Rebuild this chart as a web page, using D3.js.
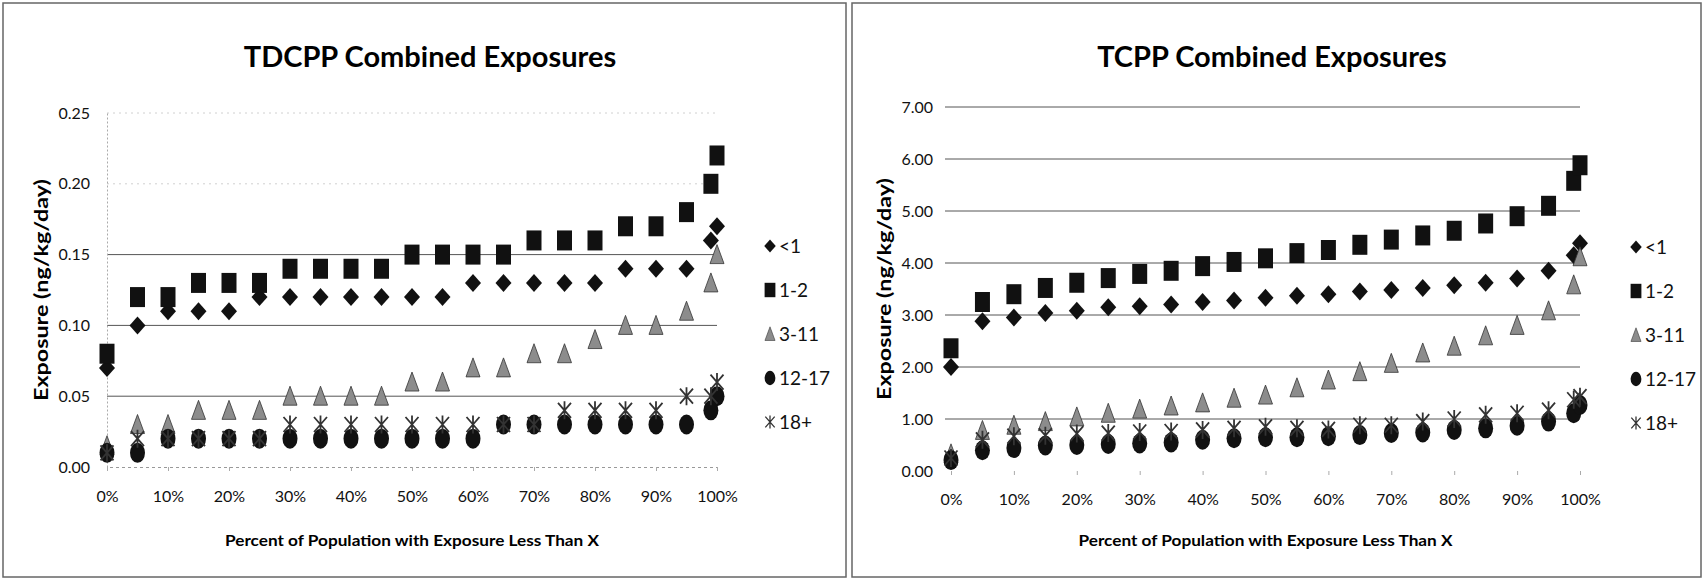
<!DOCTYPE html>
<html lang="en">
<head>
  <meta charset="UTF-8">
  <title>TDCPP / TCPP Combined Exposures</title>
  <script src="https://d3js.org/d3.v7.min.js"></script>
  <style>
    body { margin: 0; background: #fff; font-family: Lato, "Open Sans", sans-serif; }
    svg { display: block; }
  </style>
</head>
<body>
<svg id="chart" width="1704" height="580"></svg>
<script>
// percentiles shared by both charts
const pct = [0, .05, .10, .15, .20, .25, .30, .35, .40, .45, .50, .55, .60, .65, .70, .75, .80, .85, .90, .95, .99, 1.00];
const groups = ["<1", "1-2", "3-11", "12-17", "18+"];

// TDCPP (ng/kg/day)
const tdcppLt1   = [0.07, 0.10, 0.11, 0.11, 0.11, 0.12, 0.12, 0.12, 0.12, 0.12, 0.12, 0.12, 0.13, 0.13, 0.13, 0.13, 0.13, 0.14, 0.14, 0.14, 0.16, 0.17];
const tdcpp1to2  = [0.08, 0.12, 0.12, 0.13, 0.13, 0.13, 0.14, 0.14, 0.14, 0.14, 0.15, 0.15, 0.15, 0.15, 0.16, 0.16, 0.16, 0.17, 0.17, 0.18, 0.20, 0.22];
const tdcpp3to11 = [0.015, 0.03, 0.03, 0.04, 0.04, 0.04, 0.05, 0.05, 0.05, 0.05, 0.06, 0.06, 0.07, 0.07, 0.08, 0.08, 0.09, 0.10, 0.10, 0.11, 0.13, 0.15];
const tdcpp12to17= [0.01, 0.01, 0.02, 0.02, 0.02, 0.02, 0.02, 0.02, 0.02, 0.02, 0.02, 0.02, 0.02, 0.03, 0.03, 0.03, 0.03, 0.03, 0.03, 0.03, 0.04, 0.05];
const tdcpp18up  = [0.01, 0.02, 0.02, 0.02, 0.02, 0.02, 0.03, 0.03, 0.03, 0.03, 0.03, 0.03, 0.03, 0.03, 0.03, 0.04, 0.04, 0.04, 0.04, 0.05, 0.05, 0.06];
const tdcppTicks = [0, 0.05, 0.10, 0.15, 0.20, 0.25];

// TCPP (ng/kg/day)
const tcppLt1   = [2.00, 2.88, 2.95, 3.04, 3.08, 3.15, 3.17, 3.20, 3.25, 3.28, 3.33, 3.37, 3.40, 3.45, 3.48, 3.52, 3.57, 3.62, 3.70, 3.85, 4.15, 4.38];
const tcpp1to2  = [2.36, 3.25, 3.40, 3.52, 3.62, 3.71, 3.79, 3.85, 3.94, 4.02, 4.09, 4.19, 4.25, 4.35, 4.45, 4.53, 4.62, 4.76, 4.90, 5.10, 5.58, 5.88];
const tcpp3to11 = [0.33, 0.78, 0.88, 0.95, 1.04, 1.11, 1.19, 1.25, 1.31, 1.40, 1.46, 1.60, 1.75, 1.91, 2.07, 2.27, 2.40, 2.60, 2.80, 3.08, 3.58, 4.12];
const tcpp12to17= [0.21, 0.40, 0.44, 0.49, 0.50, 0.52, 0.53, 0.55, 0.60, 0.63, 0.65, 0.65, 0.67, 0.69, 0.73, 0.74, 0.79, 0.82, 0.87, 0.95, 1.11, 1.27];
const tcpp18up  = [0.25, 0.60, 0.67, 0.68, 0.72, 0.73, 0.75, 0.76, 0.79, 0.82, 0.85, 0.82, 0.80, 0.88, 0.88, 0.95, 1.00, 1.08, 1.11, 1.17, 1.37, 1.43];
const tcppTicks = [0, 1, 2, 3, 4, 5, 6, 7];

const svg = d3.select("#chart");

// marker shapes (slightly taller than wide, as in the scanned original)
const shapes = {
  "<1":    "M0,-9L8,0L0,9L-8,0Z",
  "1-2":   "M-7.5,-10H7.5V10H-7.5Z",
  "3-11":  "M0,-10L7,9H-7Z",
  "12-17": "M-7.5,0A7.5,10 0 1,0 7.5,0A7.5,10 0 1,0 -7.5,0Z",
  "18+":   "M-6.5,-7.5L6.5,7.5M6.5,-7.5L-6.5,7.5M0,-9V9"
};
const fills   = { "<1": "#111", "1-2": "#111", "3-11": "#8c8c8c", "12-17": "#111", "18+": "none" };
const strokes = { "<1": "none", "1-2": "none", "3-11": "#333", "12-17": "none", "18+": "#333" };

function drawPanel(p) {
  const g = svg.append("g");

  // frame
  g.append("rect")
    .attr("x", p.frame[0]).attr("y", 3)
    .attr("width", p.frame[1] - p.frame[0]).attr("height", 574)
    .attr("fill", "none").attr("stroke", "#666").attr("stroke-width", 1.5);

  const x = d3.scaleLinear().domain([0, 1]).range(p.xRange);
  const y = d3.scaleLinear().domain([0, d3.max(p.ticks)]).range(p.yRange);

  // gridlines
  g.selectAll(".grid")
    .data(p.ticks.filter(t => t > 0))
    .enter().append("line")
    .attr("x1", p.axisX).attr("x2", p.xRange[1])
    .attr("y1", d => y(d)).attr("y2", d => y(d))
    .attr("stroke", d => p.faint.includes(d) ? "#d0d0d0" : "#555")
    .attr("stroke-dasharray", d => p.faint.includes(d) ? "2,4" : null)
    .attr("stroke-width", 1);

  // y axis
  const yAxis = g.append("g")
    .attr("transform", `translate(${p.axisX},0)`)
    .call(d3.axisLeft(y).tickValues(p.ticks).tickFormat(d3.format(".2f")).tickSize(0).tickPadding(p.yPad));
  yAxis.select(".domain").attr("stroke", p.showYLine ? "#aaa" : "none").attr("stroke-dasharray", "2,2");
  yAxis.selectAll("text").attr("font-family", "Lato, sans-serif").attr("font-size", 16).attr("fill", "#111");

  // x axis
  const xAxis = g.append("g")
    .attr("transform", `translate(0,${p.yRange[0]})`)
    .call(d3.axisBottom(x).ticks(10).tickFormat(d3.format(".0%")).tickSize(4).tickPadding(p.xPad));
  xAxis.select(".domain").attr("stroke", p.showXLine ? "#999" : "none").attr("stroke-dasharray", "3,3");
  xAxis.selectAll(".tick line").attr("stroke", "#aaa");
  xAxis.selectAll("text").attr("font-family", "Lato, sans-serif").attr("font-size", 16).attr("fill", "#111");

  // title
  g.append("text")
    .attr("x", p.titleX).attr("y", 67)
    .attr("text-anchor", "middle")
    .attr("font-family", "Lato, sans-serif").attr("font-weight", "bold").attr("font-size", 29)
    .text(p.title);

  // axis titles
  g.append("text")
    .attr("x", (p.xRange[0] + p.xRange[1]) / 2).attr("y", 546)
    .attr("text-anchor", "middle")
    .attr("font-family", "Lato, sans-serif").attr("font-weight", "bold").attr("font-size", 15)
    .attr("textLength", 374).attr("lengthAdjust", "spacingAndGlyphs")
    .text("Percent of Population with Exposure Less Than X");

  g.append("text")
    .attr("transform", `translate(${p.yTitleX},${(p.yRange[0] + p.yRange[1]) / 2}) rotate(-90)`)
    .attr("text-anchor", "middle")
    .attr("font-family", "Lato, sans-serif").attr("font-weight", "bold").attr("font-size", 18)
    .attr("textLength", 222).attr("lengthAdjust", "spacingAndGlyphs")
    .text("Exposure (ng/kg/day)");

  // series, drawn in legend order so later ones sit on top
  groups.forEach((name, i) => {
    g.selectAll(null)
      .data(p.series[i].map((v, k) => ({ x: pct[k], y: v })))
      .enter().append("path")
      .attr("transform", d => `translate(${x(d.x)},${y(d.y)})`)
      .attr("d", shapes[name])
      .attr("fill", fills[name])
      .attr("stroke", strokes[name])
      .attr("stroke-width", name === "18+" ? 1.8 : 0.8);
  });

  // legend
  const lg = g.append("g").attr("transform", `translate(${p.legendX},${p.legendY})`);
  groups.forEach((name, i) => {
    const row = lg.append("g").attr("transform", `translate(0,${i * 44})`);
    row.append("path")
      .attr("d", shapes[name])
      .attr("transform", "scale(0.72)")
      .attr("fill", fills[name]).attr("stroke", strokes[name])
      .attr("stroke-width", name === "18+" ? 1.8 : 0.8);
    row.append("text")
      .attr("x", 9).attr("dy", "0.35em")
      .attr("font-family", "Lato, sans-serif").attr("font-size", 19).attr("fill", "#111")
      .text(name);
  });
}

drawPanel({
  title: "TDCPP Combined Exposures",
  titleX: 430,
  frame: [3, 846],
  xRange: [107, 717], yRange: [467, 113],
  axisX: 107, yPad: 17, xPad: 20,
  ticks: tdcppTicks, faint: [0.20, 0.25],
  showYLine: true, showXLine: true,
  yTitleX: 48,
  legendX: 770, legendY: 246,
  series: [tdcppLt1, tdcpp1to2, tdcpp3to11, tdcpp12to17, tdcpp18up]
});

drawPanel({
  title: "TCPP Combined Exposures",
  titleX: 1272,
  frame: [852, 1701],
  xRange: [951, 1580], yRange: [471, 107],
  axisX: 945, yPad: 12, xPad: 19,
  ticks: tcppTicks, faint: [],
  showYLine: false, showXLine: false,
  yTitleX: 891,
  legendX: 1636, legendY: 247,
  series: [tcppLt1, tcpp1to2, tcpp3to11, tcpp12to17, tcpp18up]
});
</script>
</body>
</html>
